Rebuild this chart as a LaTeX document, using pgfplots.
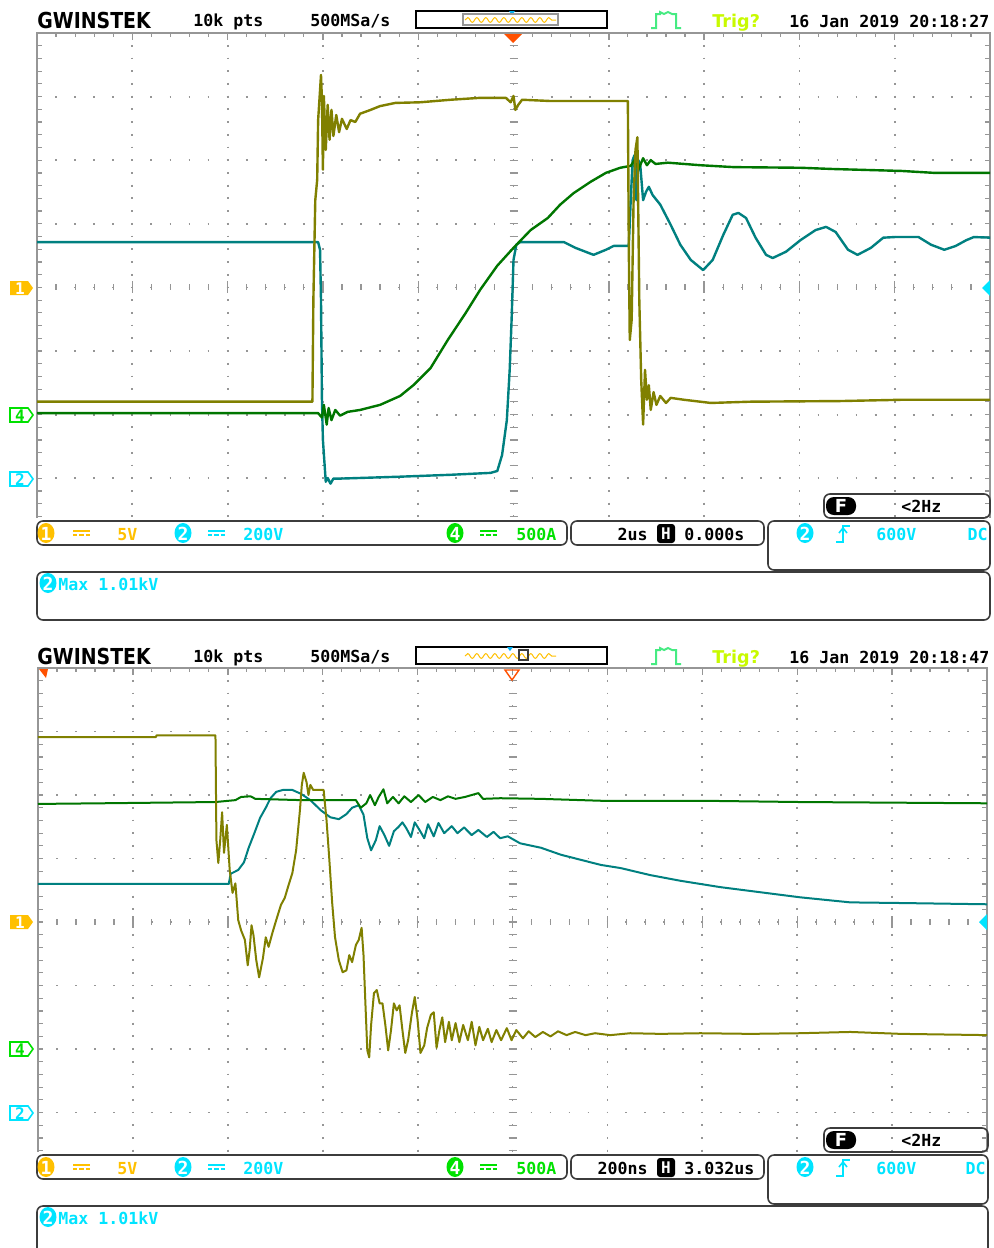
\documentclass[border=0pt]{standalone}
\usepackage{pgfplots}
\pgfplotsset{compat=1.18}
\usepackage{fontspec}
\setmainfont{DejaVu Sans}
\newfontfamily\mono{DejaVu Sans Mono}
\usetikzlibrary{decorations.pathmorphing}
\definecolor{chA}{RGB}{128,128,0}
\definecolor{chB}{RGB}{0,128,128}
\definecolor{chD}{RGB}{0,118,0}
\definecolor{lblA}{RGB}{255,192,0}
\definecolor{lblB}{RGB}{0,228,255}
\definecolor{lblD}{RGB}{0,225,0}
\definecolor{trigc}{RGB}{200,250,0}
\definecolor{gridc}{RGB}{150,150,150}
\definecolor{boxc}{RGB}{60,60,60}
\definecolor{markc}{RGB}{255,80,0}
\definecolor{pulsec}{RGB}{70,235,130}
\newcommand\tfont{\mono\bfseries\fontsize{8.3}{10}\selectfont}

% #1 L, #2 T, #3 dw, #4 dh, #5 visible bottom
\newcommand\scopegrid[5]{%
 \pgfmathsetmacro\offv{#4/10-0.9}%
 \pgfmathsetmacro\offh{#3/10-0.9}%
 \pgfmathsetmacro\R{#1+10*#3}%
 \pgfmathsetmacro\XC{#1+5*#3}%
 \pgfmathsetmacro\YC{#2+4*#4}%
 \foreach \k in {1,...,9}{%
   \draw[gridc, line width=0.9pt, dash pattern=on 0.9pt off \offv pt] ({#1+\k*#3},#2-0.9) -- ({#1+\k*#3},#5);
 }%
 \foreach \k in {1,...,7}{%
   \draw[gridc, line width=0.9pt, dash pattern=on 0.9pt off \offh pt] (#1-0.9,{#2+\k*#4}) -- (\R,{#2+\k*#4});
 }%
 \draw[gridc, line width=0.8pt] (#1,#5) -- (#1,#2) -- (\R,#2) -- (\R,#5);
 \foreach \j in {1,...,38}{%
   \draw[gridc, line width=0.6pt] (#1,{#2+\j*#4/5}) -- ++(5,0);
   \draw[gridc, line width=0.6pt] (\R,{#2+\j*#4/5}) -- ++(-5,0);
   \draw[gridc, line width=0.6pt] (\XC-4,{#2+\j*#4/5}) -- (\XC+4,{#2+\j*#4/5});
 }%
 \foreach \j in {1,...,49}{%
   \draw[gridc, line width=0.6pt] ({#1+\j*#3/5},#2) -- ++(0,4);
   \draw[gridc, line width=0.6pt] ({#1+\j*#3/5},\YC-3) -- ({#1+\j*#3/5},\YC+3);
 }%
 \foreach \k in {1,...,9}{%
   \draw[gridc, line width=0.7pt] ({#1+\k*#3},#2) -- ++(0,7);
   \draw[gridc, line width=0.7pt] ({#1+\k*#3},\YC-6) -- ({#1+\k*#3},\YC+6);
 }%
}

% header: #1 y offset, #2 date
\newcommand\scopeheader[2]{%
 \node[anchor=base west, inner sep=0, font=\bfseries\fontsize{11}{12}\selectfont] at (37,#1+28) {\scalebox{0.86}[1]{GWINSTEK}};
 \node[anchor=base west, inner sep=0, font=\tfont] at (193,#1+26) {10k pts};
 \node[anchor=base west, inner sep=0, font=\tfont] at (310,#1+26) {500MSa/s};
 \node[anchor=base west, inner sep=0, font=\bfseries\fontsize{8.8}{10}\selectfont, text=trigc] at (712,#1+27) {Trig?};
 \node[anchor=base west, inner sep=0, font=\tfont] at (789,#1+27) {#2};
 \draw[black, line width=0.8pt] (416,#1+11) rectangle (607,#1+28);
 \draw[lblA, line width=0.5pt, decorate, decoration={snake, amplitude=1.2pt, segment length=4.5pt}] (465,#1+20) -- (556,#1+20);
 \draw[pulsec, line width=1pt] (651,#1+28) -- (656,#1+28) -- (656,#1+14) -- (660,#1+14) -- (660,#1+12) -- (664,#1+14) -- (668,#1+12) -- (672,#1+14) -- (676,#1+14) -- (676,#1+28) -- (681,#1+28);
}

% circled number
\newcommand\cnum[4]{%
 \fill[#1] (#2,#3) ellipse [x radius=8.5, y radius=10];
 \node[text=white, font=\mono\bfseries\fontsize{9}{9}\selectfont, inner sep=0] at (#2,#3+0.5) {#4};
}
% DC symbol
\newcommand\dcsym[3]{%
 \draw[#1, line width=0.8pt] (#2,#3-2) -- (#2+17,#3-2);
 \draw[#1, line width=0.8pt, dash pattern=on 2.2pt off 1pt] (#2,#3+2) -- (#2+17,#3+2);
}
% channel markers: #1 y, #2 colour, #3 text
\newcommand\chmarkF[3]{%
 \fill[#2] (10,#1-7) -- (28,#1-7) -- (33,#1) -- (28,#1+7) -- (10,#1+7) -- cycle;
 \node[text=white, font=\mono\bfseries\fontsize{8}{8}\selectfont, inner sep=0] at (20,#1+0.5) {#3};
}
\newcommand\chmarkO[3]{%
 \draw[#2, line width=0.8pt] (10,#1-7) -- (28,#1-7) -- (33,#1) -- (28,#1+7) -- (10,#1+7) -- cycle;
 \node[text=#2, font=\mono\bfseries\fontsize{8}{8}\selectfont, inner sep=0] at (20,#1+0.5) {#3};
}

% status area: #1 y offset, #2 time/div, #3 H position, #4 bottom of max box, #5 right
\newcommand\statusarea[5]{%
 \draw[boxc, line width=0.8pt, rounded corners=3pt] (37,#1+521) rectangle (567,#1+545);
 \draw[boxc, line width=0.8pt, rounded corners=3pt] (571,#1+521) rectangle (764,#1+545);
 \draw[boxc, line width=0.8pt, rounded corners=3pt] (768,#1+521) rectangle (#5,#1+570);
 \draw[boxc, line width=0.8pt, rounded corners=3pt] (37,#1+572) rectangle (#5,#4);
 \cnum{lblA}{46}{#1+533}{1}
 \dcsym{lblA}{73}{#1+533}
 \node[anchor=base west, inner sep=0, font=\tfont, text=lblA] at (117,#1+540) {5V};
 \cnum{lblB}{183}{#1+533}{2}
 \dcsym{lblB}{208}{#1+533}
 \node[anchor=base west, inner sep=0, font=\tfont, text=lblB] at (243,#1+540) {200V};
 \cnum{lblD}{455}{#1+533}{4}
 \dcsym{lblD}{480}{#1+533}
 \node[anchor=base west, inner sep=0, font=\tfont, text=lblD] at (516,#1+540) {500A};
 \node[anchor=base east, inner sep=0, font=\tfont] at (648,#1+540) {#2};
 \fill[black, rounded corners=1.5pt] (657,#1+524) rectangle (675,#1+543);
 \node[text=white, font=\mono\bfseries\fontsize{8}{8}\selectfont, inner sep=0] at (666,#1+534) {H};
 \node[anchor=base west, inner sep=0, font=\tfont] at (684,#1+540) {#3};
 \cnum{lblB}{805}{#1+533}{2}
 \draw[lblB, line width=0.8pt] (836,#1+542) -- (843,#1+542) -- (843,#1+526) -- (850,#1+526);
 \draw[lblB, line width=0.8pt] (839,#1+533) -- (843,#1+528) -- (847,#1+533);
 \node[anchor=base west, inner sep=0, font=\tfont, text=lblB] at (876,#1+540) {600V};
 \node[anchor=base east, inner sep=0, font=\tfont, text=lblB] at (#5-2,#1+540) {DC};
 \cnum{lblB}{48}{#1+583}{2}
 \node[anchor=base west, inner sep=0, font=\tfont, text=lblB] at (58,#1+590) {Max 1.01kV};
}
% frequency box: #1 y offset, #2 right
\newcommand\freqbox[2]{%
 \draw[boxc, line width=0.8pt, rounded corners=3pt] (824,#1+494) rectangle (#2,#1+518);
 \fill[black, rounded corners=4pt] (826,#1+497) rectangle (856,#1+515);
 \node[text=white, font=\bfseries\fontsize{9}{9}\selectfont, inner sep=0] at (841,#1+506) {F};
 \node[anchor=base west, inner sep=0, font=\tfont] at (901,#1+512) {<2Hz};
}

\begin{document}
\begin{tikzpicture}[x=0.5pt,y=-0.5pt]
\useasboundingbox (0,0) rectangle (993,1248);
\fill[white] (0,0) rectangle (993,1248);
\clip (0,0) rectangle (993,1248);

%================ TOP SCREEN =================
\scopegrid{37}{33}{95.3}{63.6}{518}
\scopeheader{0}{16 Jan 2019 20:18:27}
\fill[cyan] (509,11) -- (515,11) -- (512,15) -- cycle;
\draw[gridc, line width=0.8pt] (463,14) rectangle (558,25);
\fill[markc] (504,34) -- (522,34) -- (513,43) -- cycle;
\chmarkF{288}{lblA}{1}
\chmarkO{415}{lblD}{4}
\chmarkO{479}{lblB}{2}
\fill[lblB] (990,280) -- (982,288) -- (990,296) -- cycle;

\begin{axis}[at={(18.5pt,-16.5pt)}, anchor=north west, scale only axis,
  width=476.5pt, height=242.5pt, xmin=-5, xmax=5, ymin=-3.62, ymax=4.01,
  hide axis, clip=true,
  every axis plot/.append style={line width=1.2pt, line join=round, mark=none}]
% CH2 (teal)
\addplot[chB] coordinates {
(-5.00,0.72) (-2.05,0.72) (-2.03,0.60) (-2.02,-0.19) (-2.01,-1.76) (-2.00,-2.39)
(-1.97,-3.05) (-1.95,-2.99) (-1.92,-3.08) (-1.89,-3.00) (-1.82,-3.00) (-1.19,-2.97)
(-0.66,-2.94) (-0.24,-2.91) (-0.17,-2.88) (-0.12,-2.63) (-0.07,-2.08) (-0.04,-1.29)
(-0.02,-0.50) (0.00,0.44) (0.03,0.68) (0.07,0.72) (0.53,0.72) (0.65,0.63)
(0.84,0.52) (0.97,0.60) (1.05,0.66) (1.21,0.66) (1.23,1.38) (1.25,2.01)
(1.27,2.09) (1.29,1.38) (1.31,2.01) (1.33,1.93) (1.36,1.38) (1.39,1.51)
(1.42,1.59) (1.46,1.46) (1.54,1.31) (1.65,0.99) (1.75,0.68) (1.86,0.44)
(1.99,0.28) (2.09,0.44) (2.20,0.83) (2.30,1.15) (2.36,1.18) (2.44,1.10)
(2.54,0.79) (2.65,0.52) (2.72,0.47) (2.86,0.57) (3.01,0.75) (3.17,0.91)
(3.28,0.96) (3.38,0.88) (3.51,0.60) (3.61,0.52) (3.75,0.63) (3.88,0.79)
(4.00,0.80) (4.25,0.80) (4.38,0.68) (4.52,0.60) (4.64,0.66) (4.75,0.75)
(4.83,0.80) (5.01,0.79)};
% CH4 (green)
\addplot[chD] coordinates {
(-5.00,-1.97) (-2.05,-1.97) (-2.01,-2.04) (-1.99,-1.84) (-1.96,-2.15) (-1.94,-1.89)
(-1.91,-2.08) (-1.87,-1.92) (-1.82,-2.01) (-1.74,-1.95) (-1.61,-1.92) (-1.40,-1.84)
(-1.19,-1.70) (-1.05,-1.53) (-0.87,-1.26) (-0.69,-0.82) (-0.50,-0.39) (-0.35,-0.03)
(-0.17,0.35) (0.00,0.63) (0.18,0.91) (0.36,1.10) (0.49,1.31) (0.63,1.49)
(0.81,1.67) (0.97,1.81) (1.12,1.89) (1.23,1.92) (1.27,2.01) (1.31,1.86)
(1.36,2.04) (1.40,1.93) (1.44,2.01) (1.49,1.95) (1.62,1.97) (1.96,1.93)
(2.31,1.90) (3.01,1.89) (3.36,1.87) (4.07,1.84) (4.41,1.81) (5.01,1.81)};
% CH1 (olive)
\addplot[chA] coordinates {
(-5.00,-1.79) (-2.11,-1.79) (-2.10,-0.19) (-2.08,1.38) (-2.06,1.70) (-2.05,2.64)
(-2.03,3.11) (-2.02,3.35) (-2.01,2.96) (-2.00,1.86) (-1.99,3.02) (-1.97,2.17)
(-1.95,2.88) (-1.93,2.33) (-1.91,2.80) (-1.89,2.39) (-1.86,2.72) (-1.83,2.45)
(-1.80,2.66) (-1.75,2.50) (-1.71,2.64) (-1.66,2.61) (-1.61,2.74) (-1.50,2.80)
(-1.40,2.86) (-1.24,2.91) (-0.98,2.92) (-0.66,2.96) (-0.35,2.99) (-0.08,2.99)
(-0.03,2.92) (0.00,3.02) (0.02,2.80) (0.05,2.88) (0.09,2.96) (0.39,2.94)
(0.91,2.94) (1.20,2.94) (1.21,0.60) (1.22,-0.82) (1.24,-0.50) (1.26,1.38)
(1.28,2.17) (1.30,2.37) (1.32,-0.19) (1.34,-1.45) (1.36,-2.15) (1.38,-1.29)
(1.40,-1.76) (1.42,-1.53) (1.44,-1.92) (1.47,-1.64) (1.50,-1.84) (1.54,-1.70)
(1.60,-1.81) (1.65,-1.73) (1.79,-1.76) (2.07,-1.81) (2.49,-1.79) (3.43,-1.78)
(4.07,-1.76) (5.01,-1.76)};
\end{axis}

\freqbox{0}{990}
\statusarea{0}{2us}{0.000s}{620}{990}

%================ BOTTOM SCREEN =================
\scopegrid{38}{668}{94.9}{63.5}{1152}
\scopeheader{636}{16 Jan 2019 20:18:47}
\fill[cyan] (507,647) -- (513,647) -- (510,651) -- cycle;
\draw[boxc, line width=0.7pt] (519,650) rectangle (528,660);
\draw[markc, line width=0.7pt] (505,670) -- (519,670) -- (512,680) -- cycle;
\fill[markc] (39,669) -- (48,669) -- (46,678) -- cycle;
\chmarkF{922}{lblA}{1}
\chmarkO{1049}{lblD}{4}
\chmarkO{1113}{lblB}{2}
\fill[lblB] (987,914) -- (979,922) -- (987,930) -- cycle;

\begin{axis}[at={(19pt,-334pt)}, anchor=north west, scale only axis,
  width=474.5pt, height=242pt, xmin=-5, xmax=5, ymin=-3.62, ymax=4.0,
  hide axis, clip=true,
  every axis plot/.append style={line width=1pt, line join=round, mark=none}]
% CH2 (teal)
\addplot[chB] coordinates {
(-5.00,0.60) (-2.99,0.60) (-2.97,0.76) (-2.89,0.82) (-2.83,0.94) (-2.78,1.17)
(-2.72,1.40) (-2.66,1.64) (-2.60,1.80) (-2.55,1.95) (-2.49,2.05) (-2.42,2.08)
(-2.32,2.08) (-2.23,2.02) (-2.13,1.92) (-2.02,1.76) (-1.92,1.65) (-1.83,1.62)
(-1.75,1.70) (-1.69,1.80) (-1.62,1.84) (-1.57,1.69) (-1.53,1.32) (-1.49,1.13)
(-1.44,1.29) (-1.40,1.51) (-1.35,1.37) (-1.30,1.20) (-1.25,1.43) (-1.20,1.50)
(-1.16,1.57) (-1.12,1.48) (-1.07,1.34) (-1.03,1.57) (-0.98,1.45) (-0.93,1.32)
(-0.89,1.54) (-0.83,1.35) (-0.78,1.56) (-0.72,1.40) (-0.64,1.51) (-0.58,1.40)
(-0.51,1.49) (-0.43,1.37) (-0.36,1.45) (-0.27,1.34) (-0.20,1.42) (-0.13,1.32)
(-0.05,1.35) (0.08,1.24) (0.30,1.17) (0.51,1.06) (0.72,0.98) (0.93,0.90)
(1.14,0.85) (1.45,0.74) (1.77,0.65) (2.19,0.55) (2.61,0.47) (3.03,0.39)
(3.56,0.31) (4.09,0.30) (5.01,0.28)};
% CH4 (green)
\addplot[chD] coordinates {
(-5.00,1.86) (-4.34,1.87) (-3.13,1.89) (-2.92,1.92) (-2.86,1.97) (-2.76,1.98)
(-2.71,1.94) (-2.23,1.92) (-1.65,1.92) (-1.60,1.80) (-1.54,1.87) (-1.50,2.00)
(-1.45,1.84) (-1.41,1.97) (-1.36,2.09) (-1.32,1.87) (-1.26,1.97) (-1.20,1.87)
(-1.14,1.98) (-1.07,1.89) (-0.99,2.00) (-0.92,1.89) (-0.84,1.97) (-0.76,1.92)
(-0.68,1.98) (-0.60,1.94) (-0.50,1.97) (-0.36,2.03) (-0.31,1.94) (-0.13,1.95)
(0.30,1.94) (0.93,1.91) (1.98,1.91) (3.03,1.89) (5.01,1.87)};
% CH1 (olive)
\addplot[chA] coordinates {
(-5.00,2.91) (-3.76,2.91) (-3.75,2.94) (-3.13,2.94) (-3.12,1.29) (-3.10,0.93)
(-3.08,1.29) (-3.06,1.73) (-3.04,1.09) (-3.01,1.53) (-2.98,0.82) (-2.95,0.46)
(-2.92,0.61) (-2.89,0.03) (-2.86,-0.13) (-2.82,-0.28) (-2.79,-0.68) (-2.77,-0.44)
(-2.75,-0.05) (-2.73,-0.20) (-2.70,-0.60) (-2.67,-0.87) (-2.63,-0.57) (-2.60,-0.24)
(-2.57,-0.39) (-2.53,-0.17) (-2.49,0.03) (-2.44,0.27) (-2.40,0.38) (-2.36,0.58)
(-2.32,0.77) (-2.28,1.13) (-2.24,1.76) (-2.22,2.16) (-2.20,2.35) (-2.17,2.20)
(-2.15,2.00) (-2.13,2.16) (-2.10,2.08) (-1.99,2.08) (-1.96,1.61) (-1.93,0.98)
(-1.90,0.30) (-1.87,-0.24) (-1.83,-0.60) (-1.79,-0.79) (-1.75,-0.76) (-1.72,-0.52)
(-1.69,-0.63) (-1.65,-0.36) (-1.62,-0.28) (-1.59,-0.09) (-1.57,-0.52) (-1.55,-1.28)
(-1.53,-2.02) (-1.51,-2.13) (-1.49,-1.62) (-1.46,-1.12) (-1.43,-1.07) (-1.40,-1.28)
(-1.37,-1.28) (-1.34,-1.62) (-1.31,-2.02) (-1.28,-1.70) (-1.25,-1.28) (-1.22,-1.39)
(-1.19,-1.31) (-1.16,-1.70) (-1.13,-2.06) (-1.10,-1.86) (-1.06,-1.43) (-1.03,-1.18)
(-1.00,-1.54) (-0.97,-2.06) (-0.93,-1.94) (-0.90,-1.67) (-0.86,-1.46) (-0.83,-1.42)
(-0.80,-1.98) (-0.77,-1.70) (-0.74,-1.50) (-0.71,-1.89) (-0.67,-1.57) (-0.64,-1.86)
(-0.60,-1.59) (-0.56,-1.89) (-0.52,-1.62) (-0.47,-1.86) (-0.43,-1.57) (-0.39,-1.94)
(-0.35,-1.65) (-0.31,-1.86) (-0.26,-1.68) (-0.22,-1.89) (-0.17,-1.70) (-0.12,-1.86)
(-0.06,-1.67) (-0.01,-1.86) (0.04,-1.70) (0.11,-1.83) (0.17,-1.72) (0.24,-1.81)
(0.32,-1.73) (0.40,-1.80) (0.48,-1.72) (0.57,-1.78) (0.66,-1.73) (0.77,-1.78)
(0.87,-1.75) (1.03,-1.78) (1.24,-1.75) (1.56,-1.76) (1.98,-1.75) (2.51,-1.76)
(3.03,-1.75) (3.56,-1.73) (4.09,-1.76) (5.01,-1.78)};
\end{axis}

\freqbox{634}{988}
\statusarea{634}{200ns}{3.032us}{1262}{988}
\end{tikzpicture}
\end{document}
